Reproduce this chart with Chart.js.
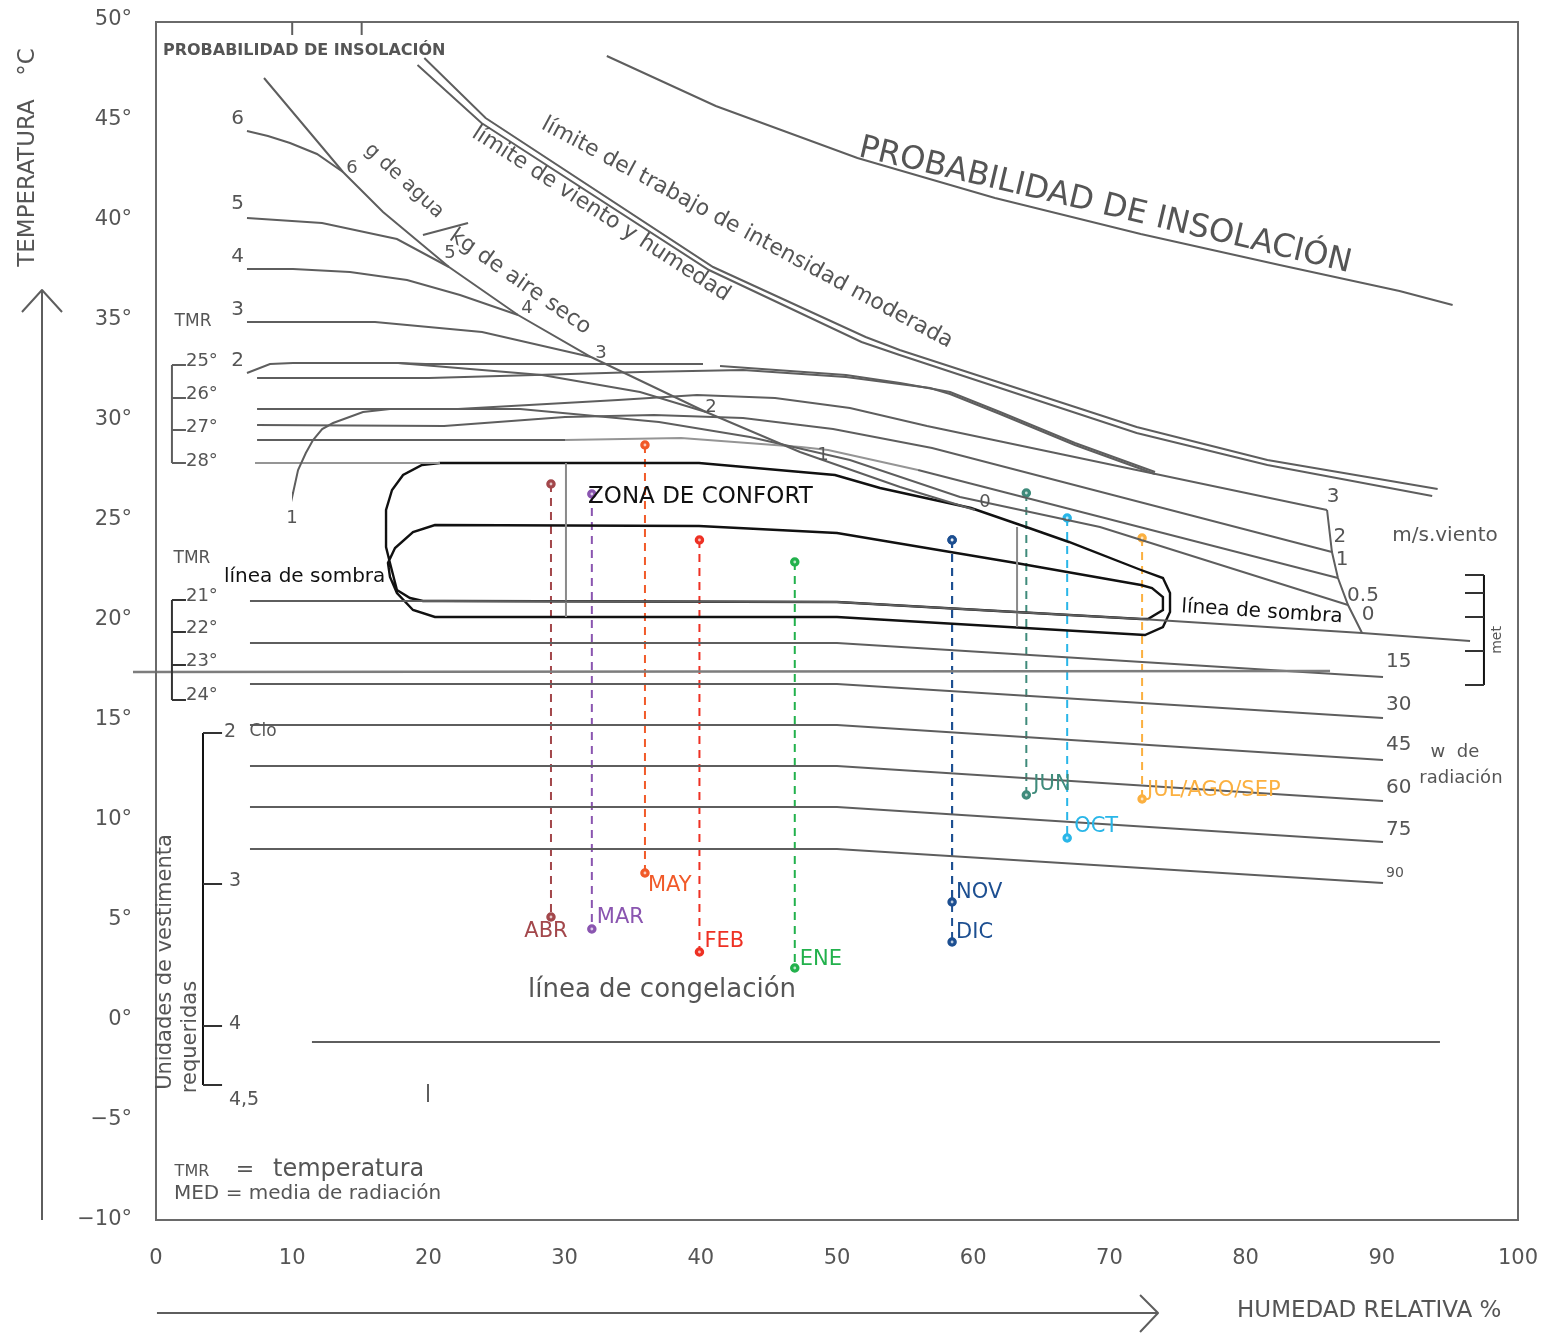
<!DOCTYPE html>
<html>
<head>
<meta charset="utf-8">
<title>Carta bioclimática</title>
<script src="https://cdn.jsdelivr.net/npm/chart.js@4/dist/chart.umd.min.js"></script>
<style>
  html, body { margin: 0; padding: 0; background: #ffffff; }
  #lienzo { display: block; }
</style>
</head>
<body>
<canvas id="lienzo" width="1561" height="1333"></canvas>
<script>
// ---- Ejes ----
const ticksHumedad = [0, 10, 20, 30, 40, 50, 60, 70, 80, 90, 100];
const ticksTemperatura = [-10, -5, 0, 5, 10, 15, 20, 25, 30, 35, 40, 45, 50];

// ---- Datos mensuales (humedad relativa %, temperatura máx/mín °C) ----
const meses      = ['ENE', 'FEB', 'MAR', 'ABR', 'MAY', 'JUN', 'JUL/AGO/SEP', 'OCT', 'NOV', 'DIC'];
const humedadMes = [46.9, 39.9, 32.0, 29.0, 35.9, 63.9, 72.4, 66.9, 58.45, 58.45];
const tMaxMes    = [22.9, 24.0, 26.3, 26.8, 28.75, 26.35, 24.1, 25.1, 24.0, 24.0];
const tMinMes    = [2.6, 3.4, 4.55, 5.15, 7.35, 11.25, 11.05, 9.1, 5.9, 3.9];

// ---- Curvas de la carta (humedad %, temperatura °C) ----
const lineaInsolacion = [[33.1,48.2],[41.1,45.7],[51.5,43.1],[61.6,41.1],[72.3,39.3],[82.5,37.75],[91.3,36.45],[95.2,35.75]];
const limiteTrabajo   = [[19.7,48.1],[24.2,45.1],[40.9,37.65],[52.1,34.15],[54.6,33.5],[72.0,29.65],[81.6,28.0],[94.1,26.55]];
const limiteViento    = [[19.2,47.75],[23.9,44.85],[40.6,37.5],[51.8,33.9],[54.6,33.25],[72.0,29.35],[81.6,27.75],[93.7,26.2]];
const aguaDiagonal    = [[7.93,47.1],[12.19,43.65],[13.73,42.4],[16.67,40.4],[21.51,37.65],[26.58,35.25],[31.94,33.15],[40.38,30.4],[47.28,28.4],[54.63,26.65],[60.13,25.5]];
const agua6 = [[6.68,44.45],[8.22,44.2],[9.84,43.85],[11.82,43.3],[13.73,42.4]];
const agua5 = [[6.68,40.1],[12.19,39.85],[17.69,39.05],[21.51,37.65]];
const agua4 = [[6.68,37.55],[10.06,37.55],[14.24,37.4],[18.43,37.0],[22.32,36.25],[26.58,35.25]];
const agua3 = [[6.68,34.9],[16.08,34.9],[23.94,34.4],[31.94,33.15]];
const agua2 = [[6.68,32.35],[8.37,32.8],[10.06,32.85],[17.77,32.85],[19.82,32.8],[40.16,32.8]];
const agua2Rama = [[17.77,32.85],[28.34,32.25],[35.54,31.4],[40.38,30.4]];
const agua2Cola = [[41.41,32.7],[50.66,32.25],[54.63,31.85],[58.30,31.4],[61.97,30.4],[67.47,28.85],[73.35,27.4]];
const linea26   = [[7.42,32.1],[20.04,32.1],[35.61,32.4],[43.10,32.5],[50.66,32.15],[56.83,31.6],[58.30,31.3],[61.97,30.3],[67.47,28.75],[73.35,27.3]];
const viento05  = [[7.42,30.55],[26.73,30.55],[36.93,29.9],[43.61,29.15],[50.95,28.0],[59.03,26.15],[69.31,24.65],[87.52,20.75]];
const viento3   = [[10.06,26.4],[10.06,26.35],[10.43,27.5],[11.0,28.35],[11.53,29.0],[12.2,29.55],[13.0,29.85],[15.2,30.4],[17.18,30.55],[22.17,30.55],[33.92,31.0],[39.72,31.25],[45.45,31.1],[50.95,30.6],[56.61,29.7],[85.98,25.5]];
const viento2   = [[7.42,29.75],[21.15,29.7],[30.03,30.15],[36.56,30.25],[43.10,30.1],[49.71,29.55],[56.98,28.6],[86.34,23.4]];
const viento1a  = [[7.42,29.0],[30.03,29.0]];
const viento1b  = [[30.03,29.0],[38.55,29.1],[47.36,28.65],[49.34,28.5],[55.95,27.5]];
const viento1c  = [[55.95,27.5],[86.78,22.1]];
const linea28   = [[7.27,27.85],[20.85,27.85]];
const vientoEnlace = [[85.98,25.5],[86.34,23.4],[86.78,22.1],[87.52,20.75],[88.55,19.35]];
const lineaSombra  = [[6.90,20.95],[21.07,20.95],[50.0,20.9],[72.32,20.05],[88.55,19.35],[96.48,18.95]];
const linea23      = [[-1.69,17.4],[86.2,17.45]];
const rad15 = [[6.90,18.85],[50.0,18.85],[90.09,17.15]];
const rad30 = [[6.90,16.8],[50.0,16.8],[90.09,15.1]];
const rad45 = [[6.90,14.75],[50.0,14.75],[90.09,13.0]];
const rad60 = [[6.90,12.7],[50.0,12.7],[90.09,10.95]];
const rad75 = [[6.90,10.65],[50.0,10.65],[90.09,8.9]];
const rad90 = [[6.90,8.55],[50.0,8.55],[90.09,6.85]];
const congelacion = [[11.45,-1.1],[94.27,-1.1]];
const confort = [[20.85,27.85],[39.87,27.85],[49.85,27.25],[53.16,26.6],[59.84,25.6],[64.10,24.6],[67.03,23.9],[72.32,22.5],
  [73.93,22.1],[74.45,21.35],[74.45,20.4],[73.93,19.65],[72.61,19.25],[50.0,20.15],[20.48,20.15],[18.87,20.5],[17.69,21.35],
  [17.18,22.15],[17.03,22.85],[17.55,23.6],[18.87,24.4],[20.48,24.75],[39.87,24.7],[50.0,24.35],[63.14,22.85],[72.32,21.75],
  [73.13,21.6],[73.93,21.15],[73.93,20.5],[72.83,20.05],[72.32,20.05],[50.0,20.9],[21.07,20.95],[19.60,20.95],[18.65,21.1],
  [17.69,21.5],[17.18,22.85],[16.89,23.65],[16.89,25.5],[17.33,26.5],[18.14,27.25],[19.53,27.75],[20.85,27.85]];
const confortIzq = [[30.10,27.85],[30.10,20.15]];
const confortDer = [[63.22,24.65],[63.22,19.65]];

// ---- Estilo ----
const GRIS = '#5e5e5e', GRIS_CLARO = '#959595', NEGRO = '#111111', TEXTO = '#555555';
const colorMes = ['#22b14c', '#ee3124', '#8a55b0', '#a3474b', '#f15a29', '#3f8b7b', '#fbb040', '#29b6e8', '#1d4f91', '#1d4f91'];
// desplazamiento (px) de cada etiqueta respecto al punto mínimo: [dx, dy, alineación]
const etiquetaMes = [[5,-8,'left'],[5,-10,'left'],[5,-11,'left'],[-5,15,'center'],[3,13,'left'],[7,-10,'left'],[5,-8,'left'],[7,-11,'left'],[4,-9,'left'],[4,-9,'left']];

const FUENTE = '"DejaVu Sans", sans-serif';

function linea(pts, color, ancho, extra) {
  return Object.assign({
    data: pts.map(([x, y]) => ({ x, y })),
    borderColor: color, borderWidth: ancho, showLine: true,
    pointRadius: 0, fill: false, tension: 0, clip: false
  }, extra || {});
}

const conjuntos = [
  linea(lineaInsolacion, GRIS, 2),
  linea(limiteTrabajo, GRIS, 2),
  linea(limiteViento, GRIS, 2),
  linea(aguaDiagonal, GRIS, 2),
  linea(agua6, GRIS, 2), linea(agua5, GRIS, 2), linea(agua4, GRIS, 2), linea(agua3, GRIS, 2),
  linea(agua2, GRIS, 2), linea(agua2Rama, GRIS, 2), linea(agua2Cola, GRIS, 2.2),
  linea(linea26, GRIS, 2.2),
  linea(viento05, GRIS, 2), linea(viento3, GRIS, 2), linea(viento2, GRIS, 2),
  linea(viento1a, GRIS, 2), linea(viento1b, GRIS_CLARO, 2), linea(viento1c, GRIS, 2),
  linea(linea28, GRIS_CLARO, 2),
  linea(vientoEnlace, GRIS, 2),
  linea(lineaSombra, GRIS, 2),
  linea(linea23, '#7d7d7d', 2.6),
  linea(rad15, GRIS, 2), linea(rad30, GRIS, 2), linea(rad45, GRIS, 2),
  linea(rad60, GRIS, 2), linea(rad75, GRIS, 2), linea(rad90, GRIS, 2),
  linea(congelacion, GRIS, 2),
  linea(confortIzq, '#8a8a8a', 2), linea(confortDer, '#8a8a8a', 2),
  linea(confort, NEGRO, 2.4)
];

meses.forEach((m, i) => {
  conjuntos.push({
    label: m,
    data: [{ x: humedadMes[i], y: tMaxMes[i] }, { x: humedadMes[i], y: tMinMes[i] }],
    borderColor: colorMes[i], borderWidth: 2, borderDash: [8, 6], showLine: true,
    pointRadius: 4, pointBorderWidth: 1.5, pointBorderColor: colorMes[i], pointBackgroundColor: colorMes[i],
    fill: false, clip: false
  });
});

const decoracion = {
  id: 'decoracion',
  afterDatasetsDraw(chart) {
    const ctx = chart.ctx, xs = chart.scales.x, ys = chart.scales.y, a = chart.chartArea;
    const P = (h, t) => [xs.getPixelForValue(h), ys.getPixelForValue(t)];
    const trazo = (pts, color, ancho) => {
      ctx.save(); ctx.strokeStyle = color; ctx.lineWidth = ancho; ctx.lineJoin = 'round';
      ctx.beginPath();
      pts.forEach(([h, t], k) => { const [x, y] = P(h, t); k ? ctx.lineTo(x, y) : ctx.moveTo(x, y); });
      ctx.stroke(); ctx.restore();
    };
    const txt = (s, h, t, o) => {
      o = o || {};
      const [x, y] = P(h, t);
      ctx.save();
      ctx.translate(x, y);
      if (o.rot) ctx.rotate(o.rot * Math.PI / 180);
      ctx.font = (o.peso || 'normal') + ' ' + (o.tam || 18) + 'px ' + FUENTE;
      ctx.fillStyle = o.color || TEXTO;
      ctx.textAlign = o.alin || 'center';
      ctx.textBaseline = 'middle';
      ctx.fillText(s, 0, 0);
      ctx.restore();
    };

    // centro claro de los puntos mensuales
    meses.forEach((m, i) => {
      [tMaxMes[i], tMinMes[i]].forEach(t => {
        const [x, y] = P(humedadMes[i], t);
        ctx.save(); ctx.fillStyle = 'rgba(255,255,255,0.7)';
        ctx.beginPath(); ctx.arc(x, y, 1.4, 0, 2 * Math.PI); ctx.fill(); ctx.restore();
      });
    });

    // marco
    ctx.save(); ctx.strokeStyle = '#6a6a6a'; ctx.lineWidth = 2;
    ctx.strokeRect(a.left, a.top + 2, a.right - a.left, a.bottom - a.top - 2); ctx.restore();
    trazo([[10, 49.9], [10, 49.25]], GRIS, 2);
    trazo([[15.1, 49.9], [15.1, 49.25]], GRIS, 2);
    trazo([[19.97, -3.2], [19.97, -4.1]], GRIS, 2);

    // flechas de los ejes
    trazo([[-8.37, -10], [-8.37, 36.5]], GRIS, 2);
    trazo([[-9.84, 35.4], [-8.37, 36.5], [-6.90, 35.4]], GRIS, 2);
    trazo([[0.07, -14.65], [73.57, -14.65]], GRIS, 2);
    trazo([[72.25, -13.75], [73.57, -14.65], [72.25, -15.6]], GRIS, 2);
    txt('TEMPERATURA', -9.40, 41.85, { tam: 23, rot: -90 });
    txt('°C', -9.40, 47.9, { tam: 23, rot: -90 });
    txt('HUMEDAD RELATIVA %', 79.37, -14.55, { tam: 23, alin: 'left' });

    // rótulos superiores
    txt('PROBABILIDAD DE INSOLACIÓN', 0.51, 48.45, { tam: 16, alin: 'left', peso: 'bold' });
    txt('PROBABILIDAD DE INSOLACIÓN', 69.68, 40.7, { tam: 32, rot: 13.3 });
    txt('límite del trabajo de intensidad moderada', 43.39, 39.35, { tam: 22, rot: 28.3 });
    txt('límite de viento y humedad', 32.67, 40.3, { tam: 22, rot: 33 });
    txt('g de agua', 18.21, 41.95, { tam: 20, rot: 42.7 });
    txt('kg de aire seco', 26.73, 36.9, { tam: 22, rot: 35 });
    trazo([[19.60, 39.25], [22.91, 39.85]], GRIS, 2);

    // números de las curvas de agua
    [['6', 45.05], ['5', 40.8], ['4', 38.15], ['3', 35.5], ['2', 32.95]].forEach(([s, t]) => txt(s, 6.0, t, { tam: 20 }));
    [['6', 14.39, 42.6], ['5', 21.59, 38.35], ['4', 27.24, 35.6], ['3', 32.67, 33.35], ['2', 40.75, 30.65], ['1', 48.97, 28.25], ['0', 60.87, 25.9], ['1', 9.99, 25.1]]
      .forEach(([s, h, t]) => txt(s, h, t, { tam: 18 }));

    // viento
    [['3', 86.42, 26.15], ['2', 86.93, 24.15], ['1', 87.08, 23.0], ['0.5', 88.62, 21.2], ['0', 88.99, 20.25]]
      .forEach(([s, h, t]) => txt(s, h, t, { tam: 20 }));
    txt('m/s.viento', 94.64, 24.2, { tam: 20 });

    // radiación
    [['15', 17.9, 20], ['30', 15.75, 20], ['45', 13.75, 20], ['60', 11.6, 20], ['75', 9.5, 20], ['90', 7.35, 14]]
      .forEach(([s, t, z]) => txt(s, 90.31, t, { tam: z, alin: 'left' }));
    txt('w  de', 95.37, 13.4, { tam: 18 });
    txt('radiación', 95.81, 12.1, { tam: 18 });

    // escala met
    trazo([[97.5, 22.25], [97.5, 16.75]], NEGRO, 2);
    [22.25, 21.35, 20.15, 18.45, 16.75].forEach(t => trazo([[96.11, t], [97.5, t]], '#333', 2));
    txt('met', 98.46, 19.0, { tam: 14, rot: -90 });

    // escalas TMR
    txt('TMR', 2.72, 34.9, { tam: 17 });
    txt('TMR', 2.64, 23.05, { tam: 17 });
    trazo([[1.17, 32.75], [1.17, 27.85]], GRIS, 2);
    [32.75, 31.1, 29.5, 27.85].forEach(t => trazo([[1.17, t], [2.2, t]], GRIS, 2));
    [['25°', 32.95], ['26°', 31.3], ['27°', 29.65], ['28°', 27.95]].forEach(([s, t]) => txt(s, 2.2, t, { tam: 18, alin: 'left' }));
    trazo([[1.17, 21.0], [1.17, 16.0]], '#333', 2);
    [21.0, 19.4, 17.75, 16.0].forEach(t => trazo([[1.17, t], [2.2, t]], '#333', 2));
    [['21°', 21.2], ['22°', 19.6], ['23°', 17.95], ['24°', 16.25]].forEach(([s, t]) => txt(s, 2.2, t, { tam: 18, alin: 'left' }));

    // escala Clo
    trazo([[3.45, 14.35], [3.45, -3.25]], NEGRO, 2);
    [14.35, 6.8, -0.3, -3.25].forEach(t => trazo([[3.45, t], [4.85, t]], '#333', 2));
    txt('2', 5.43, 14.4, { tam: 19 });
    txt('Clo', 7.86, 14.4, { tam: 17 });
    txt('3', 5.8, 6.95, { tam: 19 });
    txt('4', 5.8, -0.2, { tam: 19 });
    txt('4,5', 6.46, -4.0, { tam: 19 });
    txt('Unidades de vestimenta', 0.73, 2.9, { tam: 21, rot: -90 });
    txt('requeridas', 2.5, -0.85, { tam: 21, rot: -90 });

    // leyenda inferior
    txt('TMR', 2.64, -7.6, { tam: 16 });
    txt('=', 6.53, -7.5, { tam: 22 });
    txt('temperatura', 8.59, -7.5, { tam: 24, alin: 'left' });
    txt('MED = media de radiación', 1.32, -8.7, { tam: 20, alin: 'left' });

    // zona de confort y sombras
    txt('ZONA DE CONFORT', 31.72, 26.15, { tam: 23, alin: 'left', color: NEGRO });
    txt('línea de sombra', 4.99, 22.15, { tam: 20, alin: 'left', color: NEGRO });
    txt('línea de sombra', 81.2, 20.4, { tam: 20, rot: 3.6, color: NEGRO });
    txt('línea de congelación', 27.31, 1.5, { tam: 26, alin: 'left' });

    // etiquetas de meses
    meses.forEach((m, i) => {
      const [x, y] = P(humedadMes[i], tMinMes[i]);
      const [dx, dy, al] = etiquetaMes[i];
      ctx.save();
      ctx.font = '21px ' + FUENTE;
      ctx.fillStyle = colorMes[i]; ctx.textAlign = al; ctx.textBaseline = 'middle';
      ctx.fillText(m, x + dx, y + dy);
      ctx.restore();
    });
  }
};

new Chart(document.getElementById('lienzo'), {
  type: 'scatter',
  data: { datasets: conjuntos },
  options: {
    responsive: false,
    devicePixelRatio: 1,
    animation: false,
    events: [],
    layout: { padding: { top: 20, right: 43, bottom: 0, left: 0 } },
    plugins: { legend: { display: false }, tooltip: { enabled: false } },
    scales: {
      x: {
        type: 'linear', min: 0, max: 100,
        grid: { display: false, drawTicks: false }, border: { display: false },
        afterBuildTicks: s => { s.ticks = ticksHumedad.map(v => ({ value: v })); },
        afterFit: s => { s.height = 113; s.paddingLeft = 0; s.paddingRight = 0; },
        ticks: { padding: 26, color: TEXTO, font: { family: FUENTE, size: 21 }, callback: v => String(v) }
      },
      y: {
        type: 'linear', min: -10, max: 50,
        grid: { display: false, drawTicks: false }, border: { display: false },
        afterBuildTicks: s => { s.ticks = ticksTemperatura.map(v => ({ value: v })); },
        afterFit: s => { s.width = 156; s.paddingTop = 0; s.paddingBottom = 0; },
        ticks: { padding: 24, color: TEXTO, font: { family: FUENTE, size: 21 }, callback: v => (v < 0 ? '−' + Math.abs(v) : v) + '°' }
      }
    }
  },
  plugins: [decoracion]
});
</script>
</body>
</html>
